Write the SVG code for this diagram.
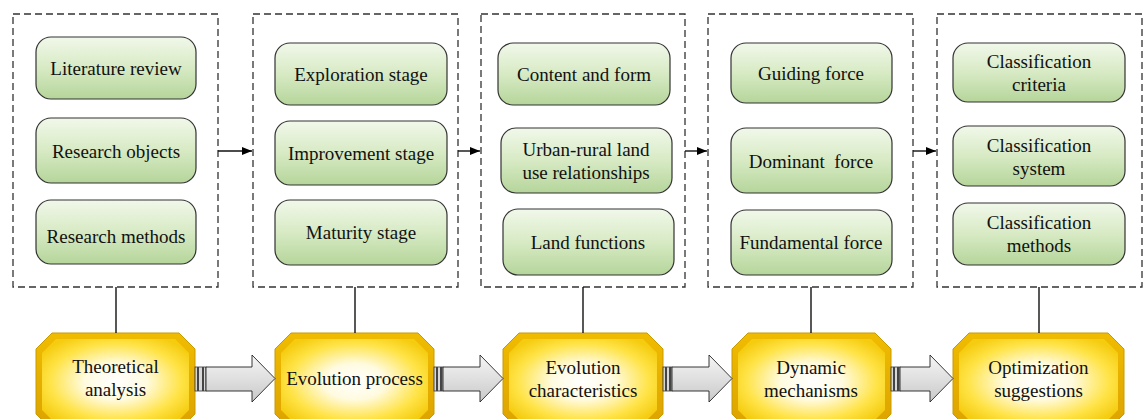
<svg xmlns="http://www.w3.org/2000/svg" width="1146" height="419" viewBox="0 0 1146 419">
<defs>
<linearGradient id="gGreen" x1="0" y1="0" x2="0" y2="1">
<stop offset="0" stop-color="#f1f8ea"/>
<stop offset="0.5" stop-color="#d7eac4"/>
<stop offset="1" stop-color="#b5d59a"/>
</linearGradient>
<linearGradient id="gGoldOuter" x1="0" y1="0" x2="0" y2="1">
<stop offset="0" stop-color="#f0bc00"/>
<stop offset="1" stop-color="#dca200"/>
</linearGradient>
<radialGradient id="gGoldInner" cx="0.5" cy="0.5" r="0.6">
<stop offset="0" stop-color="#ffffff"/>
<stop offset="0.35" stop-color="#fffbe0"/>
<stop offset="0.75" stop-color="#ffe345"/>
<stop offset="1" stop-color="#f5cc10"/>
</radialGradient>
<linearGradient id="gArrow" x1="0" y1="0" x2="0" y2="1">
<stop offset="0" stop-color="#f6f6f6"/>
<stop offset="1" stop-color="#c9c9c9"/>
</linearGradient>
<marker id="ah" markerWidth="10" markerHeight="8" refX="10" refY="4" orient="auto" markerUnits="userSpaceOnUse">
<path d="M0,0 L10,4 L0,8 Z" fill="#000"/>
</marker>
</defs>
<style>
.dash{fill:none;stroke:#333;stroke-width:1.3;stroke-dasharray:7,4}
.gbox{fill:url(#gGreen);stroke:#333;stroke-width:1.2}
.t{font-family:Liberation Serif, serif;font-size:19px;fill:#111;text-anchor:middle;dominant-baseline:central}
.octO{fill:url(#gGoldOuter);stroke:#c89b00;stroke-width:1}
.octI{fill:url(#gGoldInner);stroke:none}
.conn{stroke:#111;stroke-width:1.4;fill:none}
.barrow{fill:url(#gArrow);stroke:#222;stroke-width:0.9}
.stripe{fill:#d8d8d8;stroke:#333;stroke-width:0.8}
.sl{stroke:#444;stroke-width:2}
</style>
<g id="containers">
<rect class="dash" x="13" y="14" width="205" height="273"/>
<rect class="dash" x="253" y="14" width="205" height="273"/>
<rect class="dash" x="481" y="14" width="204" height="273"/>
<rect class="dash" x="708" y="14" width="205" height="273"/>
<rect class="dash" x="937" y="14" width="205" height="273"/>
</g>

<g id="literature-review"><rect class="gbox" x="36" y="37" width="160" height="62" rx="15"/><text class="t" x="116" y="68">Literature review</text></g>
<g id="research-objects"><rect class="gbox" x="36" y="118" width="160" height="65" rx="15"/><text class="t" x="116" y="151">Research objects</text></g>
<g id="research-methods"><rect class="gbox" x="36" y="200" width="160" height="64" rx="15"/><text class="t" x="116" y="236">Research methods</text></g>

<g id="exploration-stage"><rect class="gbox" x="275" y="43" width="172" height="62" rx="15"/><text class="t" x="361" y="74">Exploration stage</text></g>
<g id="improvement-stage"><rect class="gbox" x="275" y="121" width="172" height="64" rx="15"/><text class="t" x="361" y="153">Improvement stage</text></g>
<g id="maturity-stage"><rect class="gbox" x="275" y="200" width="172" height="65" rx="15"/><text class="t" x="361" y="232">Maturity stage</text></g>

<g id="content-and-form"><rect class="gbox" x="498" y="43" width="172" height="62" rx="15"/><text class="t" x="584" y="74">Content and form</text></g>
<g id="urban-rural"><rect class="gbox" x="501" y="128" width="171" height="65" rx="15"/><text class="t" x="586" y="149">Urban-rural land</text><text class="t" x="586" y="172">use relationships</text></g>
<g id="land-functions"><rect class="gbox" x="503" y="209" width="171" height="66" rx="15"/><text class="t" x="588" y="242">Land functions</text></g>

<g id="guiding-force"><rect class="gbox" x="731" y="43" width="161" height="60" rx="15"/><text class="t" x="811" y="73">Guiding force</text></g>
<g id="dominant-force"><rect class="gbox" x="731" y="128" width="161" height="65" rx="15"/><text class="t" x="811" y="161" xml:space="preserve">Dominant  force</text></g>
<g id="fundamental-force"><rect class="gbox" x="731" y="210" width="161" height="65" rx="15"/><text class="t" x="811" y="242">Fundamental force</text></g>

<g id="classification-criteria"><rect class="gbox" x="953" y="43" width="172" height="59" rx="15"/><text class="t" x="1039" y="61">Classification</text><text class="t" x="1039" y="84">criteria</text></g>
<g id="classification-system"><rect class="gbox" x="953" y="126" width="172" height="60" rx="15"/><text class="t" x="1039" y="145">Classification</text><text class="t" x="1039" y="168">system</text></g>
<g id="classification-methods"><rect class="gbox" x="953" y="203" width="172" height="62" rx="15"/><text class="t" x="1039" y="222">Classification</text><text class="t" x="1039" y="245">methods</text></g>

<g id="theoretical-analysis">
<path class="octO" d="M52,333 L179,333 L195,349 L195,414 L179,430 L52,430 L36,414 L36,349 Z"/>
<path class="octI" d="M56,339 L175,339 L189,353 L189,410 L175,424 L56,424 L42,410 L42,353 Z"/>
<text class="t" x="115.5" y="366">Theoretical</text><text class="t" x="115.5" y="389">analysis</text>
</g>
<g id="evolution-process">
<path class="octO" d="M291,333 L418,333 L434,349 L434,414 L418,430 L291,430 L275,414 L275,349 Z"/>
<path class="octI" d="M295,339 L414,339 L428,353 L428,410 L414,424 L295,424 L281,410 L281,353 Z"/>
<text class="t" x="354.5" y="378">Evolution process</text>
</g>
<g id="evolution-characteristics">
<path class="octO" d="M519,333 L647,333 L663,349 L663,414 L647,430 L519,430 L503,414 L503,349 Z"/>
<path class="octI" d="M523,339 L643,339 L657,353 L657,410 L643,424 L523,424 L509,410 L509,353 Z"/>
<text class="t" x="583" y="367">Evolution</text><text class="t" x="583" y="390">characteristics</text>
</g>
<g id="dynamic-mechanisms">
<path class="octO" d="M748,333 L875,333 L891,349 L891,414 L875,430 L748,430 L732,414 L732,349 Z"/>
<path class="octI" d="M752,339 L871,339 L885,353 L885,410 L871,424 L752,424 L738,410 L738,353 Z"/>
<text class="t" x="811" y="367">Dynamic</text><text class="t" x="811" y="390">mechanisms</text>
</g>
<g id="optimization-suggestions">
<path class="octO" d="M969,333 L1108,333 L1124,349 L1124,414 L1108,430 L969,430 L953,414 L953,349 Z"/>
<path class="octI" d="M973,339 L1104,339 L1118,353 L1118,410 L1104,424 L973,424 L959,410 L959,353 Z"/>
<text class="t" x="1038.5" y="367">Optimization</text><text class="t" x="1038.5" y="390">suggestions</text>
</g>

<g id="connectors">
<line class="conn" x1="218" y1="151" x2="252" y2="151" marker-end="url(#ah)"/>
<line class="conn" x1="458" y1="151" x2="480" y2="151" marker-end="url(#ah)"/>
<line class="conn" x1="685" y1="151" x2="707" y2="151" marker-end="url(#ah)"/>
<line class="conn" x1="913" y1="151" x2="936" y2="151" marker-end="url(#ah)"/>
<line class="conn" x1="116" y1="287" x2="116" y2="333"/>
<line class="conn" x1="355" y1="287" x2="355" y2="333"/>
<line class="conn" x1="583" y1="287" x2="583" y2="333"/>
<line class="conn" x1="811" y1="287" x2="811" y2="333"/>
<line class="conn" x1="1039" y1="287" x2="1039" y2="333"/>
<rect class="stripe" x="195" y="367" width="11" height="24"/>
<line class="sl" x1="198" y1="367" x2="198" y2="391"/><line class="sl" x1="203" y1="367" x2="203" y2="391"/>
<path class="barrow" d="M206,367 L252,367 L252,355 L275,378.5 L252,402 L252,391 L206,391 Z"/>
<rect class="stripe" x="434" y="367" width="9" height="24"/>
<line class="sl" x1="437" y1="367" x2="437" y2="391"/><line class="sl" x1="441" y1="367" x2="441" y2="391"/>
<path class="barrow" d="M443,367 L480,367 L480,355 L503,378.5 L480,402 L480,391 L443,391 Z"/>
<rect class="stripe" x="663" y="367" width="9" height="24"/>
<line class="sl" x1="666" y1="367" x2="666" y2="391"/><line class="sl" x1="670" y1="367" x2="670" y2="391"/>
<path class="barrow" d="M672,367 L709,367 L709,355 L732,378.5 L709,402 L709,391 L672,391 Z"/>
<rect class="stripe" x="891" y="367" width="9" height="24"/>
<line class="sl" x1="894" y1="367" x2="894" y2="391"/><line class="sl" x1="898" y1="367" x2="898" y2="391"/>
<path class="barrow" d="M900,367 L930,367 L930,355 L953,378.5 L930,402 L930,391 L900,391 Z"/>
</g>
</svg>
